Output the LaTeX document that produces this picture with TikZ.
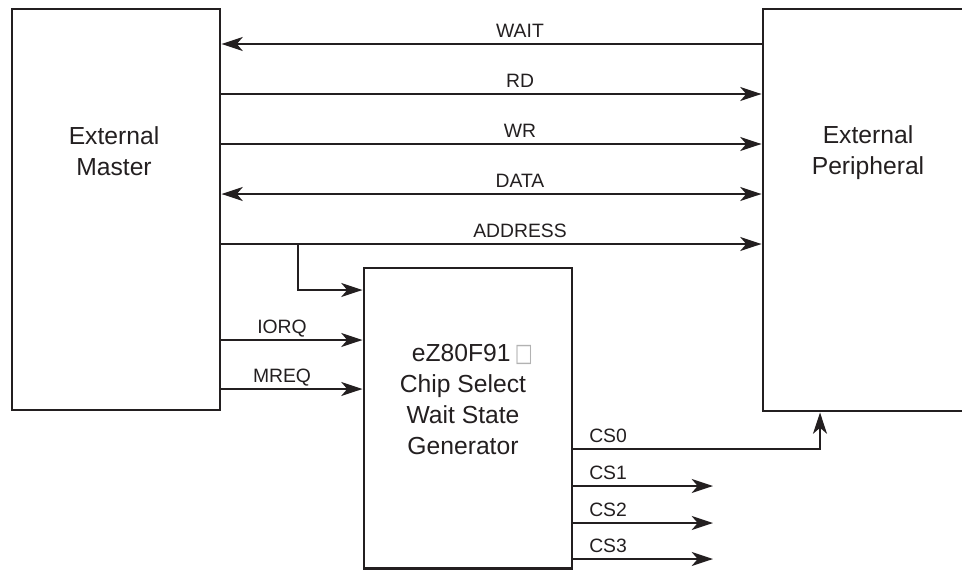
\documentclass[tikz,border=0pt]{standalone}
\usepackage{fontspec}
\usepackage{graphicx}
\setmainfont{Liberation Sans}
\newfontfamily\symfont{DejaVu Sans}
\usetikzlibrary{arrows.meta,positioning}
\definecolor{ink}{RGB}{35,31,32}
\tikzset{
	sigtip/.tip={Stealth[length=16pt,width=10.5pt,inset=4.5pt]},
	unit/.style={draw=ink, line width=2.2pt, inner sep=0pt, rectangle},
	unittext/.style={align=center, text=ink, inner sep=0pt, font=\fontsize{18.5}{23.25}\selectfont},
	sig/.style={draw=ink, line width=1.4pt},
	siglabel/.style={anchor=base, text=ink, inner sep=0pt, font=\fontsize{14.5}{17}\selectfont},
	cslabel/.style={siglabel, anchor=base west}
}

\begin{document}
\begin{tikzpicture}[x=0.75pt, y=-0.75pt]

					\useasboundingbox (0,0) rectangle (962,571);

					% the three blocks
					\node[unit, minimum width=156pt, minimum height=300.75pt] (master) at (116,209.5) {};
					\node[unit, minimum width=165pt, minimum height=301.5pt] (periph) at (873,210) {};
					\node[unit, minimum width=156pt, minimum height=225.4pt] (chip) at (468,418.25) {};

					\node[unittext] (mastertxt) at (114,151.5) {External\\Master};
					\node[unittext] (periphtxt) at (868,153) {External\\Peripheral};
					\node[unittext] (chiptxt) at (463,399) {\hspace*{14pt}eZ80F91\,{\symfont\fontsize{13}{15}\selectfont\color{gray!60}\scalebox{1.1}[1.45]{□}}\\Chip Select\\Wait State\\Generator};

					% bus between master and peripheral
					\coordinate (wait) at (520,44);
					\coordinate (rd) at (520,94);
					\coordinate (wr) at (520,144);
					\coordinate (data) at (520,194);
					\coordinate (addr) at (520,244);

					\draw[sig, {sigtip}-] (master.east |- wait) -- (periph.west |- wait);
					\draw[sig, -{sigtip}] (master.east |- rd) -- (periph.west |- rd);
					\draw[sig, -{sigtip}] (master.east |- wr) -- (periph.west |- wr);
					\draw[sig, {sigtip}-{sigtip}] (master.east |- data) -- (periph.west |- data);
					\draw[sig, -{sigtip}] (master.east |- addr) -- (periph.west |- addr);

					\node[siglabel] (waitlbl) at (520,37) {WAIT};
					\node[siglabel] (rdlbl) at (520,87) {RD};
					\node[siglabel] (wrlbl) at (520,137) {WR};
					\node[siglabel] (datalbl) at (520,187) {DATA};
					\node[siglabel] (addrlbl) at (520,237) {ADDRESS};

					% address tap into the chip select block
					\coordinate (tap) at (298,244);
					\coordinate (tapin) at (298,290);
					\draw[sig, -{sigtip}] (tap) |- (chip.west |- tapin);

					% request lines
					\coordinate (iorq) at (282,340);
					\coordinate (mreq) at (282,389);
					\draw[sig, -{sigtip}] (master.east |- iorq) -- (chip.west |- iorq);
					\draw[sig, -{sigtip}] (master.east |- mreq) -- (chip.west |- mreq);
					\node[siglabel] (iorqlbl) at (282,333) {IORQ};
					\node[siglabel] (mreqlbl) at (282,382) {MREQ};

					% chip selects
					\coordinate (cs0end) at (820,449);
					\draw[sig, -{sigtip}] (chip.east |- cs0end) -- (cs0end) -- (cs0end |- periph.south);
					\node[cslabel] (cs0lbl) at (589,442) {CS0};

					\foreach \i/\y in {1/486,2/523,3/559}{
						\coordinate (cs\i end) at (713,\y);
						\draw[sig, -{sigtip}] (chip.east |- cs\i end) -- (cs\i end);
						\node[cslabel] (cs\i lbl) at (589,\y-7) {CS\i};
					}

\end{tikzpicture}
\end{document}
